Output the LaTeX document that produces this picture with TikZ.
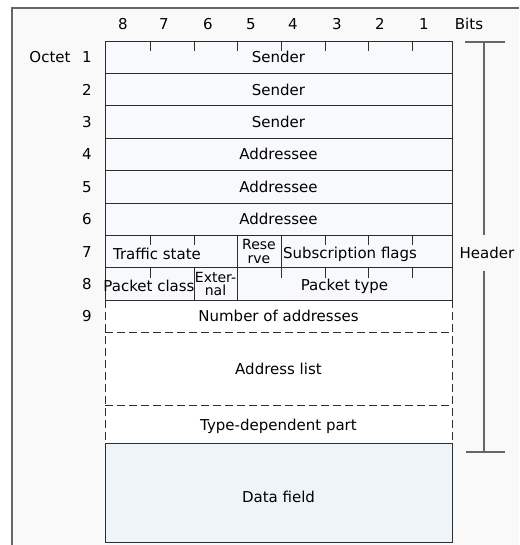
\documentclass[tikz,border=0pt]{standalone}
\usepackage{fontspec}
\setmainfont{DejaVu Sans}
\definecolor{framebg}{HTML}{F9F9F9}
\definecolor{rowfill}{HTML}{F7F9FC}
\definecolor{datafill}{HTML}{EFF4F8}
\definecolor{linecol}{HTML}{2E2E2E}
\definecolor{brackcol}{HTML}{666666}
\begin{document}
\begin{tikzpicture}[x=1pt,y=-1pt,
	field/.style={font=\fontsize{15}{15}\selectfont, inner sep=0pt},
	split/.style={font=\fontsize{14}{13.5}\selectfont, inner sep=0pt, align=center},
	cell/.style={draw=linecol, line width=0.9pt},
	dashcell/.style={draw=linecol, line width=0.9pt, dash pattern=on 8pt off 4pt},
	brack/.style={draw=brackcol, line width=1.3pt}]
	\useasboundingbox (0,0) rectangle (519,545);
	\fill[framebg] (12,8) rectangle (519,545);
	\draw[brackcol, line width=1.2pt] (519,8) -- (12,8) -- (12,545);

	% header rows
	\fill[rowfill] (105,41) rectangle (452,300);
	\fill[white] (105,300) rectangle (452,443);
	\draw[cell] (105,300) -- (105,41) -- (452,41) -- (452,300);
	\foreach \i in {1,...,8}
		\draw[cell] (105,{41+32.4*\i}) -- (452,{41+32.4*\i});

	% bit ticks
	\foreach \x in {150,194,237,281,325,368,412}
		\draw[cell] (\x,41) -- (\x,51);
	\foreach \b/\x in {8/123,7/164,6/208,5/251,4/293,3/337,2/380,1/424}
		\node[field] (bit\b) at (\x,24) {\b};
	\node[field] (bits) at (469,24) {Bits};

	\node[field] (octet) at (50,57.2) {Octet};
	\foreach \n in {1,...,8}
		\node[field] (oct\n) at (87,{41+32.4*(\n-0.5)}) {\n};
	\node[field] (oct9) at (87,316) {9};

	\foreach \n in {1,2,3}
		\node[field] (sender\n) at (278.5,{41+32.4*(\n-0.5)}) {Sender};
	\foreach \n in {4,5,6}
		\node[field] (addressee\n) at (278.5,{41+32.4*(\n-0.5)}) {Addressee};

	% octet 7
	\foreach \x in {150,194,325,368,412}
		\draw[cell] (\x,235.4) -- (\x,245);
	\draw[cell] (237,235.4) -- (237,300);
	\draw[cell] (281,235.4) -- (281,267.8);
	\node[field] (traffic) at (157,254) {Traffic state};
	\node[split] (reserve) at (259,251.5) {Rese\\rve};
	\node[field] (subflags) at (350,254) {Subscription flags};

	% octet 8
	\foreach \x in {150,281,325,368,412}
		\draw[cell] (\x,267.8) -- (\x,277.5);
	\draw[cell] (194,267.8) -- (194,300);
	\node[field] (pclass) at (149,286) {Packet class};
	\node[split] (external) at (215.5,284) {Exter-\\nal};
	\node[field] (ptype) at (344.5,286) {Packet type};

	% optional part
	\draw[dashcell] (105,300) -- (105,443);
	\draw[dashcell] (452,300) -- (452,443);
	\draw[dashcell] (105,332) -- (452,332);
	\draw[dashcell] (105,405) -- (452,405);
	\node[field] (numaddr) at (278.5,316) {Number of addresses};
	\node[field] (addrlist) at (278.5,368.5) {Address list};
	\node[field] (typepart) at (278.5,426) {Type-dependent part};

	\draw[cell, fill=datafill] (105,443) rectangle (452,542);
	\node[field] (data) at (278.5,497) {Data field};

	% header bracket
	\node[field, minimum height=35pt] (header) at (487,253) {Header};
	\coordinate (hdtop) at (484,42);
	\coordinate (hdbot) at (484,452);
	\draw[brack] (465,42) -- (505,42);
	\draw[brack] (466,452) -- (505,452);
	\draw[brack] (hdtop) -- (hdtop |- header.north);
	\draw[brack] (hdbot |- header.south) -- (hdbot);
\end{tikzpicture}
\end{document}
